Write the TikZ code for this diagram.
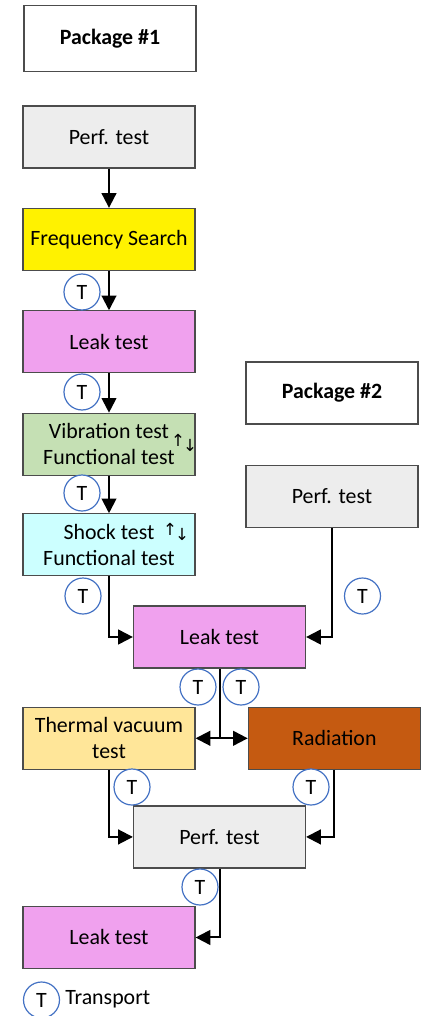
\documentclass[tikz,border=0pt]{standalone}
\usepackage{fontspec}
\setmainfont{Carlito}
\newfontfamily\symfont{DejaVu Sans}
\usetikzlibrary{positioning,arrows.meta}

\definecolor{perfgray}{RGB}{237,237,237}
\definecolor{leakpink}{RGB}{240,161,238}
\definecolor{vibgreen}{RGB}{197,224,180}
\definecolor{shockcyan}{RGB}{204,255,255}
\definecolor{thermalyellow}{RGB}{255,230,153}
\definecolor{radorange}{RGB}{197,90,17}
\definecolor{transblue}{RGB}{68,114,196}

\tikzset{
  box/.style = {draw=black!70, line width=0.9pt, minimum width=129pt, minimum height=46.5pt, align=center},
  pkg/.style = {box, fill=white},
  transport/.style = {circle, draw=transblue, line width=0.9pt, fill=white, minimum size=27pt, inner sep=0pt},
  conn/.style = {->, line width=1.5pt},
}

\begin{document}
\begin{tikzpicture}
[x=0.75pt, y=-0.75pt, node distance = 2.7cm, on grid,
 >={Triangle[length=11pt, width=11pt]},
 font=\fontsize{16.4}{19.5}\selectfont]

\useasboundingbox (0,0) rectangle (423,1016);

% package 1
\node [pkg, minimum height=50pt] (pack1) at (110,38.5) {\textbf{Package \#1}};
\node [box, fill=perfgray] (perf1) at (109,137) {Perf. test};
\node [box, fill=yellow] (freq) [below=of perf1] {Frequency Search};
\node [box, fill=leakpink] (leak1) [below=of freq] {Leak test};
\node [box, fill=vibgreen] (vib) [below=of leak1] {Vibration test\\Functional test};
\node [box, fill=shockcyan] (shock) [below=2.65cm of vib] {Shock test\\Functional test};

\node (vibarrows) at (184,443) {\fontsize{12.5}{14}\symfont ↑\kern-1.5pt\raisebox{-3.5pt}{↓}};
\node (shockarrows) at (176,532) {\fontsize{12.5}{14}\symfont ↑\kern-1.5pt\raisebox{-3.5pt}{↓}};

% package 2
\node [pkg] (pack2) at (332,393) {\textbf{Package \#2}};
\node [box, fill=perfgray] (perf2) [below=2.73cm of pack2] {Perf. test};

% common
\node [box, fill=leakpink] (leak2) at (219.5,637) {Leak test};
\node [box, fill=thermalyellow] (thermal) [below=5.1cm of shock] {Thermal vacuum\\test};
\node [box, fill=radorange] (radiation) [right=5.94cm of thermal] {Radiation};
\node [box, fill=perfgray] (perf3) [below=5.27cm of leak2] {Perf. test};
\node [box, fill=leakpink] (leak3) [below=5.25cm of thermal] {Leak test};

\draw [conn] (perf1) -- (freq);
\draw [conn] (freq) -- (leak1);
\draw [conn] (leak1) -- (vib);
\draw [conn] (vib) -- (shock);
\draw [conn] (shock) |- (leak2);
\draw [conn] (perf2) |- (leak2);

\coordinate (split) at (leak2.south |- thermal.east);
\draw [line width=1.5pt] (leak2) -- (split);
\draw [conn] (split) -- (thermal);
\draw [conn] (split) -- (radiation);

\draw [conn] (thermal) |- (perf3);
\draw [conn] (radiation) |- (perf3);
\draw [conn] (perf3) |- (leak3);

% transports
\node [transport] (t1) at (82,292) {T};
\node [transport] (t2) at (82,392) {T};
\node [transport] (t3) at (82,493) {T};
\node [transport] (t4) at (83,596) {T};
\node [transport] (t5) at (362.5,596) {T};
\node [transport] (t6) at (198,687) {T};
\node [transport] (t7) at (241,687) {T};
\node [transport] (t8) at (132,787) {T};
\node [transport] (t9) at (311,787) {T};
\node [transport] (t10) at (200,887) {T};

% legend
\node [transport] (tlegend) at (41.5,1000) {T};
\node [anchor=west, inner sep=0pt] (translabel) at (65,999) {Transport};

\end{tikzpicture}
\end{document}
